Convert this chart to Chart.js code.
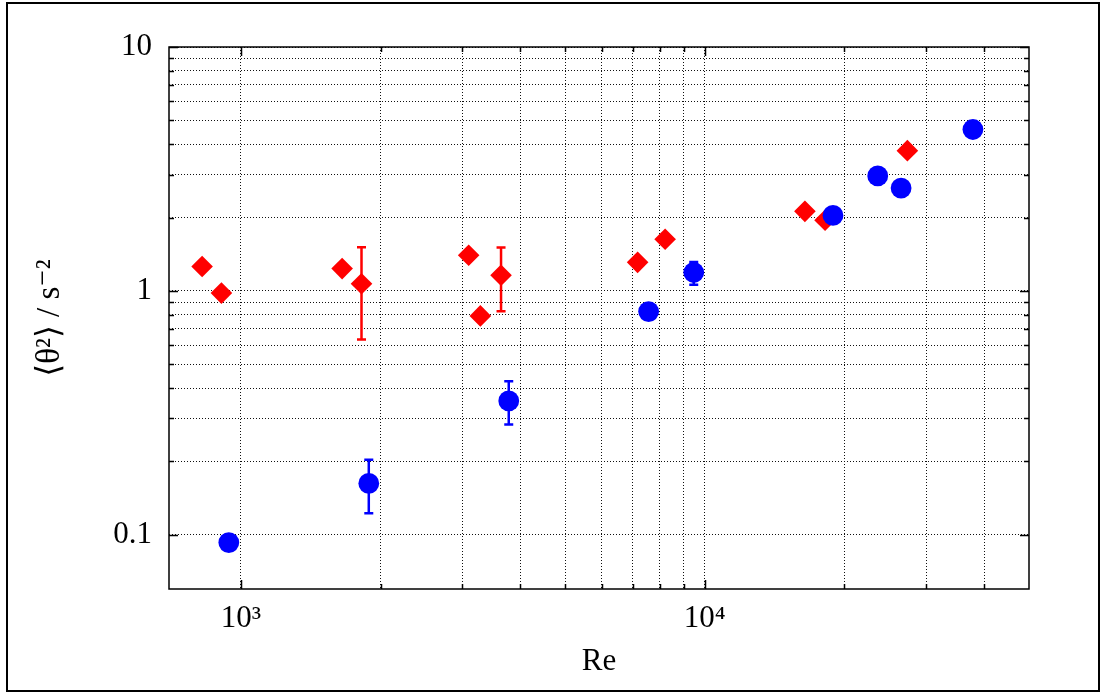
<!DOCTYPE html>
<html>
<head>
<meta charset="utf-8">
<script src="https://cdn.jsdelivr.net/npm/chart.js@4"></script>
<style>
  body { margin: 0; background: #fff; }
  #wrap { position: absolute; left: 0; top: 0; width: 1104px; height: 693px; }
  #frame { position: absolute; left: 6px; top: 2px; width: 1090px; height: 686px; border: 2px solid #000; pointer-events: none; }
</style>
</head>
<body>
<div id="wrap"><canvas id="thetaChart"></canvas></div>
<div id="frame"></div>
<script>
// red diamonds
var redRe = [825, 908, 1653, 1820, 3098, 3283, 3638, 7166, 8214, 16440, 18170, 27340];
var redTheta = [1.26, 0.98, 1.235, 1.07, 1.40, 0.79, 1.16, 1.31, 1.63, 2.12, 1.95, 3.76];
var redLow = [null, null, null, 0.632, null, null, 0.826, null, null, null, null, null];
var redHigh = [null, null, null, 1.51, null, null, 1.506, null, null, null, null, null];

// blue circles
var blueRe = [942, 1887, 3780, 7568, 9468, 18900, 23600, 26500, 37850];
var blueTheta = [0.093, 0.1625, 0.354, 0.823, 1.19, 2.04, 2.96, 2.64, 4.59];
var blueLow = [null, 0.1227, 0.2835, null, 1.06, null, null, null, null];
var blueHigh = [null, 0.203, 0.4265, null, 1.315, null, null, null, null];

// ticks / grid
var xGrid = [1000, 2000, 3000, 4000, 5000, 6000, 7000, 8000, 9000, 10000, 20000, 30000, 40000];
var xMajor = [1000, 10000];
var xMajorLabels = ["10³", "10⁴"];
var yGrid = [0.1, 0.2, 0.3, 0.4, 0.5, 0.6, 0.7, 0.8, 0.9, 1, 2, 3, 4, 5, 6, 7, 8, 9, 10];
var yMajor = [0.1, 1, 10];
var yMajorLabels = ["0.1", "1", "10"];

const toPoints = (xs, ys) => xs.map((v, i) => ({ x: v, y: ys[i] }));

const errorBars = {
  id: "errorBars",
  beforeDatasetsDraw(chart) {
    const ctx = chart.ctx;
    const x = chart.scales.x;
    const y = chart.scales.y;
    chart.data.datasets.forEach((ds) => {
      ctx.save();
      ctx.strokeStyle = ds.backgroundColor;
      ctx.lineWidth = 2.5;
      ds.data.forEach((p, i) => {
        if (ds.errLow[i] == null) return;
        const px = x.getPixelForValue(p.x);
        const top = y.getPixelForValue(ds.errHigh[i]);
        const bot = y.getPixelForValue(ds.errLow[i]);
        ctx.beginPath();
        ctx.moveTo(px, top);
        ctx.lineTo(px, bot);
        ctx.moveTo(px - 4.5, top);
        ctx.lineTo(px + 4.5, top);
        ctx.moveTo(px - 4.5, bot);
        ctx.lineTo(px + 4.5, bot);
        ctx.stroke();
      });
      ctx.restore();
    });
  },
};

const plotFrame = {
  id: "plotFrame",
  afterDraw(chart) {
    const ctx = chart.ctx;
    const a = chart.chartArea;
    const x = chart.scales.x;
    const y = chart.scales.y;
    ctx.save();
    ctx.strokeStyle = "#000";
    ctx.lineWidth = 1.5;
    ctx.beginPath();
    xGrid.forEach((v) => {
      const px = Math.round(x.getPixelForValue(v)) + 0.5;
      const len = xMajor.indexOf(v) >= 0 ? 9 : 5;
      ctx.moveTo(px, a.bottom);
      ctx.lineTo(px, a.bottom - len);
      ctx.moveTo(px, a.top);
      ctx.lineTo(px, a.top + len);
    });
    yGrid.forEach((v) => {
      const py = Math.round(y.getPixelForValue(v)) + 0.5;
      const len = yMajor.indexOf(v) >= 0 ? 9 : 5;
      ctx.moveTo(a.left, py);
      ctx.lineTo(a.left + len, py);
      ctx.moveTo(a.right, py);
      ctx.lineTo(a.right - len, py);
    });
    ctx.stroke();
    ctx.strokeRect(a.left, a.top, a.right - a.left, a.bottom - a.top);
    ctx.restore();
  },
};

const font = { family: "'Liberation Serif', 'DejaVu Serif', serif", size: 31 };

var thetactx = document.getElementById("thetaChart");
var thetaChart = new Chart(thetactx, {
  type: "scatter",
  data: {
    datasets: [
      {
        label: "red",
        data: toPoints(redRe, redTheta),
        errLow: redLow,
        errHigh: redHigh,
        backgroundColor: "#ff0000",
        pointStyle: "rectRot",
        pointRadius: 10.8,
        borderWidth: 0,
        order: 2,
      },
      {
        label: "blue",
        data: toPoints(blueRe, blueTheta),
        errLow: blueLow,
        errHigh: blueHigh,
        backgroundColor: "#0000ff",
        pointStyle: "circle",
        pointRadius: 10.4,
        borderWidth: 0,
        order: 1,
      },
    ],
  },
  options: {
    responsive: true,
    maintainAspectRatio: false,
    animation: false,
    events: [],
    layout: { padding: { top: 47, right: 75, left: 0, bottom: 0 } },
    plugins: {
      legend: { display: false },
      tooltip: { enabled: false },
    },
    scales: {
      x: {
        type: "logarithmic",
        min: 700,
        max: 50000,
        afterBuildTicks: (s) => {
          s.ticks = xGrid.map((v) => ({ value: v }));
        },
        afterFit: (s) => {
          s.height = 104;
        },
        ticks: {
          autoSkip: false,
          maxRotation: 0,
          padding: 11,
          color: "#000",
          font: font,
          callback: (v) => {
            const k = xMajor.indexOf(v);
            return k >= 0 ? xMajorLabels[k] : "";
          },
        },
        grid: { color: "#111", lineWidth: 1, drawTicks: false },
        border: { display: false, dash: [1, 2] },
        title: {
          display: true,
          text: "Re",
          color: "#000",
          font: font,
          padding: { top: 0, bottom: 13 },
        },
      },
      y: {
        type: "logarithmic",
        min: 0.06,
        max: 10,
        afterBuildTicks: (s) => {
          s.ticks = yGrid.map((v) => ({ value: v }));
        },
        afterFit: (s) => {
          s.width = 169;
        },
        ticks: {
          autoSkip: false,
          padding: 17,
          color: "#000",
          font: font,
          callback: (v) => {
            const k = yMajor.indexOf(v);
            return k >= 0 ? yMajorLabels[k] : "";
          },
        },
        grid: { color: "#111", lineWidth: 1, drawTicks: false },
        border: { display: false, dash: [1, 2] },
        title: {
          display: true,
          text: "⟨θ²⟩ / s⁻²",
          color: "#000",
          font: { family: font.family, size: 33 },
          padding: { top: 31, bottom: 0 },
        },
      },
    },
  },
  plugins: [errorBars, plotFrame],
});
</script>
</body>
</html>
